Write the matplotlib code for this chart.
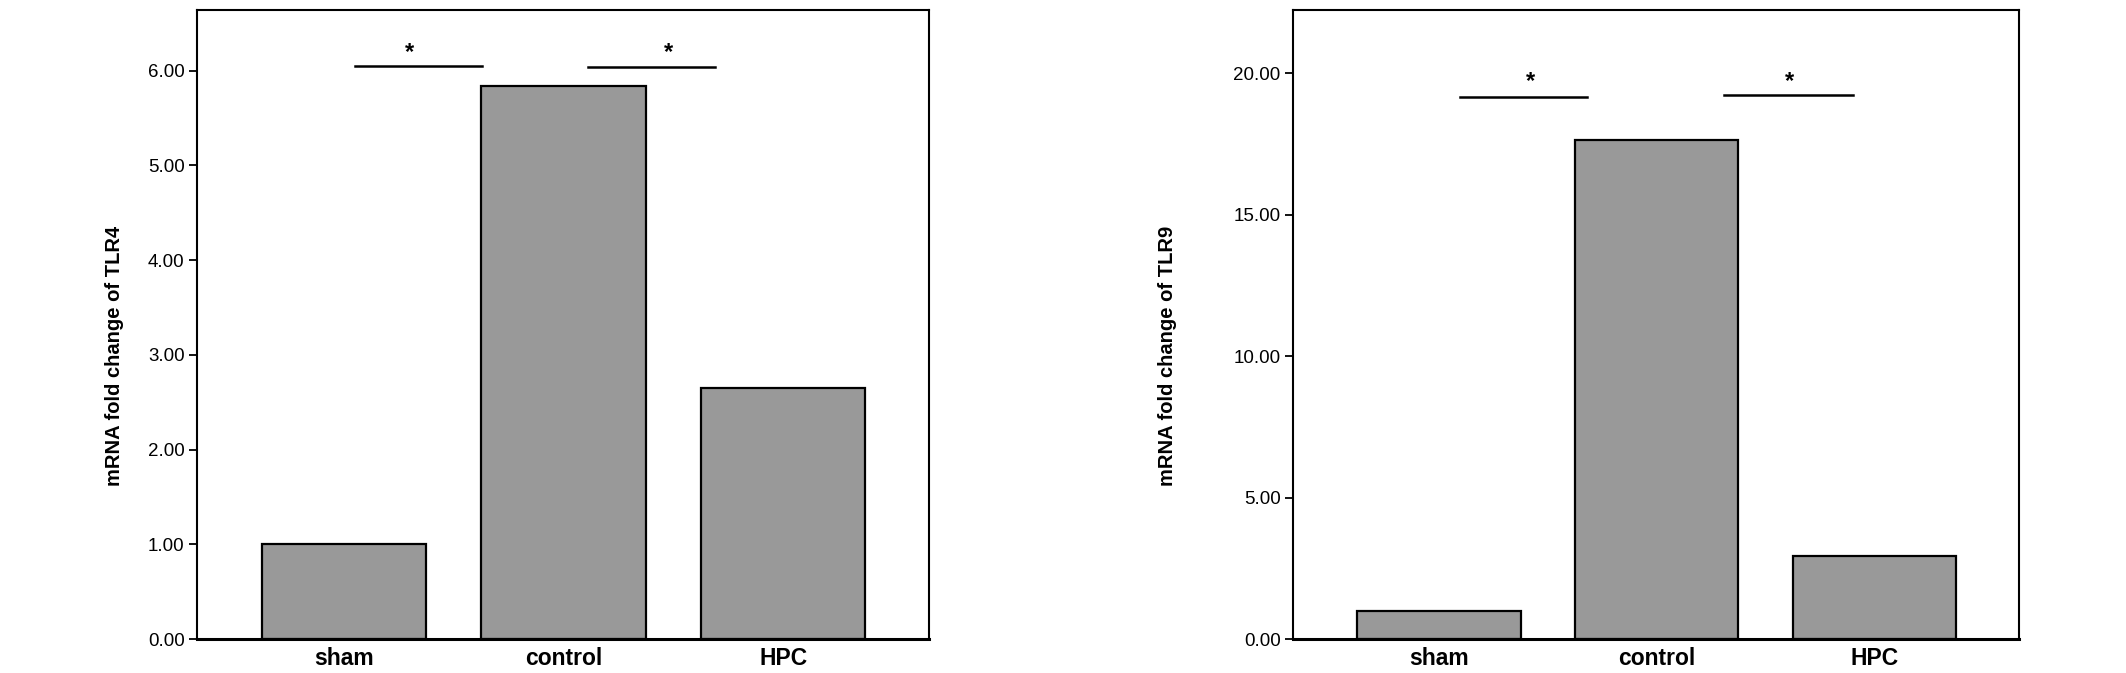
import matplotlib
matplotlib.use("Agg")
import matplotlib.pyplot as plt
import numpy as np

plt.rcParams['font.family'] = ['Liberation Sans', 'DejaVu Sans']

groups = ['sham', 'control', 'HPC']
tlr4 = [1.00, 5.84, 2.65]
tlr9 = [0.99, 17.64, 2.95]

ticks_tlr4 = [0, 1, 2, 3, 4, 5, 6]
ticks_tlr9 = [0, 5, 10, 15, 20]

# significance bars: (x start, x end, y, star x, star y)
sig_tlr4 = [(0.048, 0.63, 6.05, 0.30, 6.19), (1.11, 1.69, 6.04, 1.48, 6.19)]
sig_tlr9 = [(0.095, 0.68, 19.15, 0.42, 19.7), (1.31, 1.90, 19.24, 1.61, 19.7)]

fig = plt.figure(figsize=(21.26, 6.73), dpi=100)
ax1 = fig.add_axes([0.0927, 0.0505, 0.3443, 0.9346])
ax2 = fig.add_axes([0.6082, 0.0505, 0.3415, 0.9346])


def panel(ax, vals, ticks, ymax, label, sigs, label_x):
    x = np.arange(len(groups))
    ax.bar(x, vals, width=0.75, color='#999999', edgecolor='black', linewidth=1.6, zorder=2)
    ax.set_xlim(-0.67, 2.665)
    ax.set_ylim(0, ymax)
    ax.set_yticks(ticks)
    ax.set_yticklabels([f"{t:.2f}" for t in ticks])
    ax.set_xticks(x)
    ax.set_xticklabels(groups, fontweight='bold', fontsize=16.5)
    ax.tick_params(axis='x', length=0, pad=6)
    ax.tick_params(axis='y', length=6, width=1.3, labelsize=13.5, pad=3)
    for s in ['top', 'right', 'left']:
        ax.spines[s].set_linewidth(1.5)
    ax.spines['bottom'].set_linewidth(2.2)
    ax.set_ylabel(label, fontweight='bold', fontsize=14.5)
    ax.yaxis.set_label_coords(label_x, 0.45)
    for x0, x1, y, sx, sy in sigs:
        ax.plot([x0, x1], [y, y], color='black', linewidth=1.8)
        ax.text(sx, sy, '*', ha='center', va='center', fontsize=17, fontweight='bold')


panel(ax1, tlr4, ticks_tlr4, 6.64, 'mRNA fold change of TLR4', sig_tlr4, -0.10)
panel(ax2, tlr9, ticks_tlr9, 22.24, 'mRNA fold change of TLR9', sig_tlr9, -0.16)

fig.savefig('out.png', dpi=100)
